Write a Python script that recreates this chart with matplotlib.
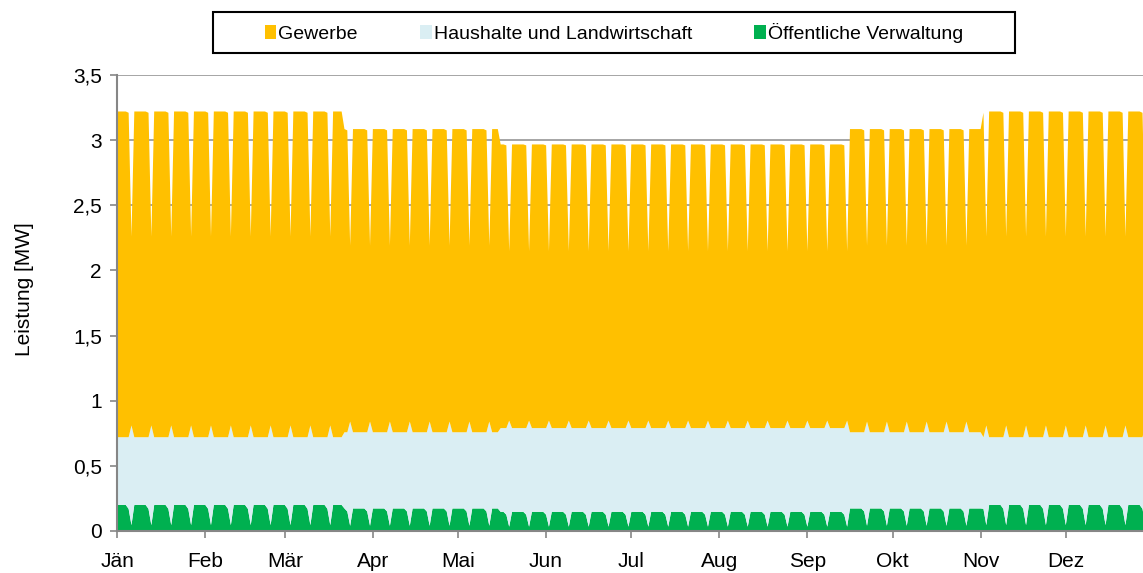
import numpy as np
import matplotlib
matplotlib.use("Agg")
import matplotlib.pyplot as plt
from matplotlib.patches import Rectangle

plt.rcParams['font.family'] = ['Liberation Sans', 'DejaVu Sans']

# Tageswerte je Saison (Winter, Übergang, Sommer) und Tagestyp, in MW
oev_werktag = [0.200, 0.173, 0.147]
oev_samstag = [0.170, 0.150, 0.125]
oev_sonntag = [0.045, 0.040, 0.033]

hh_werktag = [0.520, 0.585, 0.643]
hh_samstag = [0.550, 0.608, 0.665]
hh_sonntag = [0.765, 0.800, 0.814]

gew_werktag = [2.500, 2.327, 2.177]
gew_samstag = [2.490, 2.317, 2.170]
gew_sonntag = [1.450, 1.350, 1.300]

# Saisonwechsel (Tag im Jahr) und welche Saison ab dort gilt
season_start = [0, 80, 135, 258, 305]
season_index = [0, 1, 2, 1, 0]

month_start = [0, 31, 59, 90, 120, 151, 181, 212, 243, 273, 304, 334]
month_labels = ["Jän", "Feb", "Mär", "Apr", "Mai", "Jun", "Jul", "Aug",
                "Sep", "Okt", "Nov", "Dez"]
y_ticks = [0, 0.5, 1, 1.5, 2, 2.5, 3, 3.5]
y_labels = ["0", "0,5", "1", "1,5", "2", "2,5", "3", "3,5"]

# 1. Jänner = Dienstag -> Samstag bei Tag%7==4, Sonntag bei Tag%7==5
days = np.arange(365)
oev, hh, gew = [], [], []
for d in days:
    s = season_index[np.searchsorted(season_start, d, side="right") - 1]
    if d % 7 == 5:
        oev.append(oev_sonntag[s]); hh.append(hh_sonntag[s]); gew.append(gew_sonntag[s])
    elif d % 7 == 4:
        oev.append(oev_samstag[s]); hh.append(hh_samstag[s]); gew.append(gew_samstag[s])
    else:
        oev.append(oev_werktag[s]); hh.append(hh_werktag[s]); gew.append(gew_werktag[s])

fig = plt.figure(figsize=(11.43, 5.73), dpi=100)
ax = fig.add_axes([0.1026, 0.0733, 0.9069, 0.7958])

polys = ax.stackplot(days, oev, hh, gew,
                     colors=["#00B050", "#DAEEF3", "#FFC000"],
                     linewidth=0, zorder=2)

ax.set_xlim(0, 365)
ax.set_ylim(0, 3.5)
ax.set_yticks(y_ticks)
ax.set_yticklabels(y_labels)
ax.set_xticks(month_start)
ax.set_xticklabels(month_labels)
ax.yaxis.grid(True, color="#969696", linewidth=1.2, zorder=0)
ax.set_axisbelow(True)

for side in ["top", "right"]:
    ax.spines[side].set_visible(False)
for side in ["left", "bottom"]:
    ax.spines[side].set_color("#868686")
    ax.spines[side].set_linewidth(1.5)
ax.tick_params(axis="both", colors="#868686", length=5, width=1.2, labelsize=15,
               labelcolor="black")
ax.tick_params(axis="y", pad=6)
ax.tick_params(axis="x", pad=10)
ax.set_ylabel("Leistung [MW]", fontsize=15)
ax.yaxis.set_label_coords(-0.080, 0.53)

handles = [polys[2], polys[1], polys[0]]
labels = ["Gewerbe", "Haushalte und Landwirtschaft", "Öffentliche Verwaltung"]
fig.legend(handles, labels, loc="center", bbox_to_anchor=(0.537, 0.943),
           ncol=3, frameon=False, fontsize=14, handlelength=0.6,
           handleheight=0.7, handletextpad=0.1, columnspacing=3.2)
fig.patches.append(Rectangle((0.1864, 0.9075), 0.7016, 0.0716,
                             transform=fig.transFigure, fill=False,
                             edgecolor="black", linewidth=1.5))

fig.savefig("out.png", dpi=100)
